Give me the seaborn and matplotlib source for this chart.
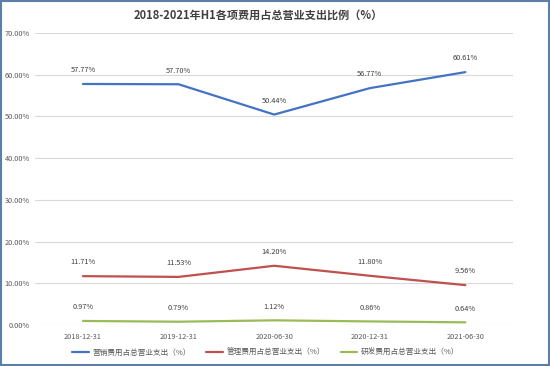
import matplotlib
matplotlib.use("Agg")
import matplotlib.pyplot as plt
import seaborn as sns
import pandas as pd
from matplotlib.ticker import FuncFormatter
from matplotlib.patches import Rectangle

dates = ["2018-12-31", "2019-12-31", "2020-06-30", "2020-12-31", "2021-06-30"]
sales = [57.77, 57.70, 50.44, 56.77, 60.61]
admin = [11.71, 11.53, 14.20, 11.80, 9.56]
rnd = [0.97, 0.79, 1.12, 0.86, 0.64]
series_names = ["营销费用占总营业支出（%）", "管理费用占总营业支出（%）", "研发费用占总营业支出（%）"]
colors = ["#4472C4", "#C0504D", "#9BBB59"]

df = pd.DataFrame({
    "date": dates * 3,
    "value": sales + admin + rnd,
    "series": [series_names[0]] * 5 + [series_names[1]] * 5 + [series_names[2]] * 5,
})

sns.set_style("white")
plt.rcParams['font.family'] = ['Noto Sans CJK SC', 'DejaVu Sans']

fig = plt.figure(figsize=(5.5, 3.66), dpi=100)
ax = fig.add_axes([0.064, 0.112, 0.869, 0.798])

sns.lineplot(data=df, x="date", y="value", hue="series", palette=colors,
             linewidth=1.6, ax=ax, sort=False, legend=True)

ax.set_xlim(-0.5, 4.5)
ax.set_ylim(0, 70)
ax.set_yticks(range(0, 71, 10))
ax.yaxis.set_major_formatter(FuncFormatter(lambda v, p: f"{v:.2f}%"))
ax.grid(axis="y", color="#D9D9D9", linewidth=0.8)
ax.set_axisbelow(True)
for s in ax.spines.values():
    s.set_visible(False)
ax.tick_params(axis="both", length=0, labelsize=5.3, colors="#595959")
ax.tick_params(axis="y", pad=4)
ax.tick_params(axis="x", pad=6)
ax.set_xlabel("")
ax.set_ylabel("")

for vals in (sales, admin, rnd):
    for i, v in enumerate(vals):
        ax.annotate(f"{v:.2f}%", (i, v), xytext=(0, 7), textcoords="offset points",
                    ha="center", va="bottom", fontsize=5.3, color="#404040")

ax.legend(loc="center left", bbox_to_anchor=(72 / 550, 13 / 366), bbox_transform=fig.transFigure,
          ncol=3, frameon=False, fontsize=5.5, handlelength=2.2, handletextpad=0.5,
          columnspacing=2.0, labelcolor="#595959", borderaxespad=0, borderpad=0)

fig.text(0.47, 0.958, "2018-2021年H1各项费用占总营业支出比例（%）", ha="center", va="center",
         fontsize=8, fontweight="bold", color="#404040")

fig.patches.append(Rectangle((0.002, 0.003), 0.996, 0.994, transform=fig.transFigure,
                             fill=False, edgecolor="#5B7FA8", linewidth=1.5))

fig.savefig("out.png", dpi=100)
